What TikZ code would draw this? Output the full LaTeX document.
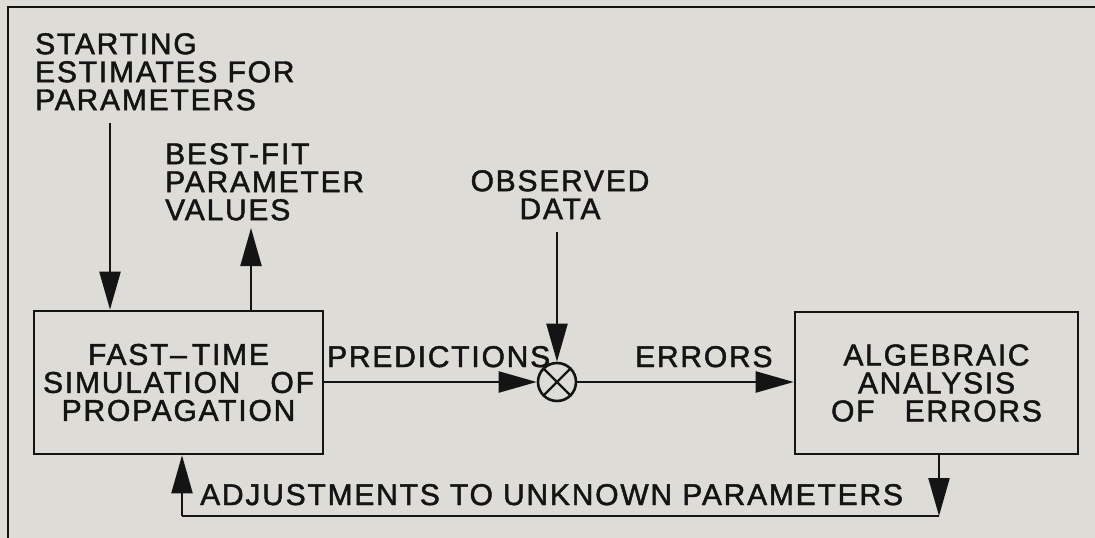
\documentclass[tikz,border=0pt]{standalone}
\usepackage{fontspec}
\setmainfont[AutoFakeBold=1.6, LetterSpace=6]{Liberation Sans}
\usetikzlibrary{arrows.meta}
\definecolor{paper}{RGB}{221,220,215}
\definecolor{ink}{RGB}{20,20,20}
\tikzset{
  lbl/.style={inner sep=0pt, font=\fontsize{30}{28}\selectfont\bfseries, text=ink},
  blk/.style={draw=ink, line width=2.6pt, rectangle, inner sep=0pt, align=center,
              font=\fontsize{30}{28}\selectfont\bfseries, text=ink},
  arr/.style={draw=ink, line width=2.2pt, -{Triangle[length=38pt,width=21pt]}},
  wire/.style={draw=ink, line width=2.2pt},
}
\begin{document}
\begin{tikzpicture}[x=1pt,y=-1pt]
\useasboundingbox (0,0) rectangle (1095,538);
\fill[paper] (0,0) rectangle (1095,538);
% outer frame (left and top edges visible)
\draw[ink, line width=2.4pt] (8,545) -- (8,7) -- (1100,7);

% blocks
\node[blk, minimum width=289pt, minimum height=143pt] (sim) at (178.5,382.5)
  {FAST–\,TIME\\SIMULATION\quad OF\\PROPAGATION};
\node[blk, minimum width=283pt, minimum height=142pt] (ana) at (936.5,383)
  {ALGEBRAIC\\ANALYSIS\\OF\quad ERRORS};
\node[draw=ink, line width=2.6pt, circle, minimum size=38pt, inner sep=0pt] (sum) at (557,382) {};
\draw[ink, line width=2.2pt] (sum.north east) -- (sum.south west)
                             (sum.north west) -- (sum.south east);

% labels
\node[lbl, anchor=north west, align=left] (start) at (35,33)
  {STARTING\\ESTIMATES FOR\\PARAMETERS};
\node[lbl, anchor=north west, align=left] (best) at (165,143)
  {BEST-FIT\\PARAMETER\\VALUES};
\node[lbl, anchor=north, align=center] (obs) at (560,170)
  {OBSERVED\\DATA};
\node[lbl, anchor=base west] (pred) at (327,367) {PREDICTIONS};
\node[lbl, anchor=base west] (err) at (635,367) {ERRORS};
\node[lbl, anchor=base west] (adj) at (200,505) {ADJUSTMENTS TO UNKNOWN PARAMETERS};

% connectors
\coordinate (s1) at (110,123);
\coordinate (b1) at (251,228);
\coordinate (o1) at (557,232);
\coordinate (f1) at (939,516);
\coordinate (f2) at (182,516);
\draw[arr] (s1) -- (s1 |- sim.north);
\draw[arr] (b1 |- sim.north) -- (b1);
\draw[arr] (o1) -- (sum.north);
\draw[arr] (sim.east |- sum.west) -- (sum.west);
\draw[arr] (sum.east) -- (sum.east -| ana.west);
\draw[arr] (f1 |- ana.south) -- (f1);
\draw[wire] (f1) -- (f2);
\draw[arr] (f2) -- (f2 |- sim.south);
\end{tikzpicture}
\end{document}
